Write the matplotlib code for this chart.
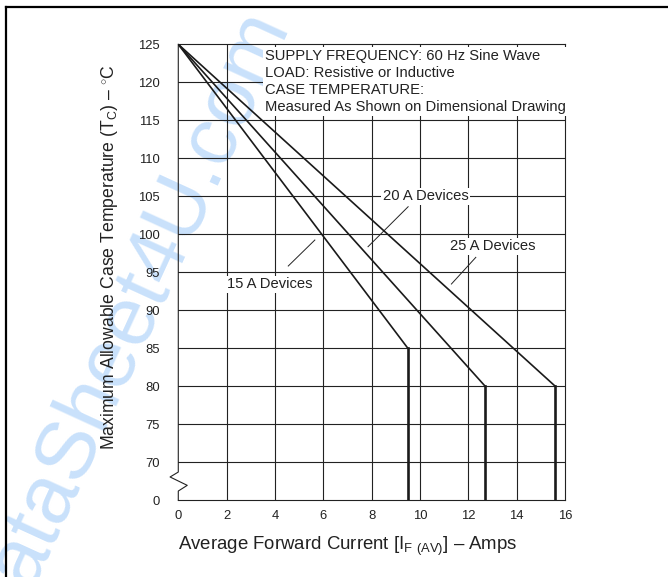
import numpy as np
import matplotlib
matplotlib.use('Agg')
import matplotlib.pyplot as plt
from matplotlib.lines import Line2D

plt.rcParams['font.family'] = ['Liberation Sans', 'DejaVu Sans']
plt.rcParams['mathtext.fontset'] = 'custom'
plt.rcParams['mathtext.rm'] = 'Liberation Sans'

# derating curves: current [A] vs. max case temperature [C] (0 = bottom of broken axis)
i_15 = [0, 9.5, 9.5]
t_15 = [125, 85, 0]
i_20 = [0, 12.7, 12.7]
t_20 = [125, 80, 0]
i_25 = [0, 15.6, 15.6]
t_25 = [125, 80, 0]

x_ticks = [0, 2, 4, 6, 8, 10, 12, 14, 16]
y_ticks = [0, 70, 75, 80, 85, 90, 95, 100, 105, 110, 115, 120, 125]

# label text, label centre, leader line
labels = ['15 A Devices', '20 A Devices', '25 A Devices']
label_x = [3.79, 10.23, 13.03]
label_y = [93.4, 105.0, 98.4]
leader_x = [[5.65, 4.55], [9.51, 7.85], [12.31, 11.30]]
leader_y = [[99.25, 95.83], [103.63, 98.37], [96.97, 93.46]]

note = ('SUPPLY FREQUENCY: 60 Hz Sine Wave\n'
        'LOAD: Resistive or Inductive\n'
        'CASE TEMPERATURE:\n'
        'Measured As Shown on Dimensional Drawing')

BREAK = 65  # where "0" sits on the broken y axis


def ax_y(t):
    t = np.asarray(t, dtype=float)
    return np.where(t < 70, BREAK, t)


fig = plt.figure(figsize=(6.68, 5.77), dpi=100)
ax = fig.add_axes([0.2669, 0.1329, 0.5789, 0.7903])
ax.set_facecolor('none')

# watermark behind everything
fig.text(0.187, 0.442, 'DataSheet4U.com', color='#c9e1fb', fontsize=60,
         rotation=65.4, ha='center', va='center', zorder=-5)

# page border (top + left)
fig.add_artist(Line2D([5.5 / 668, 1], [1 - 6.5 / 577, 1 - 6.5 / 577],
                      color='black', lw=1.6))
fig.add_artist(Line2D([5.5 / 668, 5.5 / 668], [0, 1 - 6.5 / 577],
                      color='black', lw=1.6))

ax.set_xlim(0, 16)
ax.set_ylim(BREAK, 125)
ax.set_xticks(x_ticks)
ax.set_yticks(ax_y(y_ticks))
ax.set_yticklabels([str(v) for v in y_ticks])
ax.tick_params(length=0, labelsize=9.4, colors='#222222')
ax.tick_params(axis='y', pad=13.5)
ax.tick_params(axis='x', pad=7.0)

for v in x_ticks[1:-1]:
    ax.axvline(v, color='#222222', lw=0.8, zorder=1)
for v in y_ticks[1:-1]:
    ax.axhline(v, color='#222222', lw=0.8, zorder=1)

for s in ['top', 'right', 'bottom']:
    ax.spines[s].set_color('#222222')
    ax.spines[s].set_linewidth(0.8)
ax.spines['left'].set_visible(False)

# left axis with break zig-zag
bx = [0, 0, 0.37, -0.34, 0, 0]
by = [65, 66.22, 66.97, 68.07, 68.72, 125]
ax.plot(bx, by, color='#222222', lw=0.8, clip_on=False, zorder=2)

for xs, ts in [(i_15, t_15), (i_20, t_20), (i_25, t_25)]:
    ys = ax_y(ts)
    ax.plot(xs[:2], ys[:2], color='#1a1a1a', lw=1.2, zorder=4,
            solid_capstyle='round')
    ax.plot(xs[1:], ys[1:], color='#1a1a1a', lw=1.9, zorder=4,
            solid_joinstyle='miter')

for txt, lx, ly, px, py in zip(labels, label_x, label_y, leader_x, leader_y):
    ax.text(lx, ly, txt, ha='center', va='center', fontsize=10.6, color='#222222',
            zorder=3, bbox=dict(boxstyle='square,pad=0.12', fc='white', ec='none'))
    ax.plot(px, py, color='#222222', lw=0.7, zorder=3)

ax.text(3.58, 124.4, note, ha='left', va='top', fontsize=10.6, color='#222222',
        linespacing=1.28, zorder=3,
        bbox=dict(boxstyle='square,pad=0.12', fc='white', ec='none'))

ax.set_xlabel(r'Average Forward Current [I$_{\mathregular{F\ (AV)}}$] – Amps',
              fontsize=13.4, color='#222222', ha='left')
ax.xaxis.set_label_coords(0.0, -0.076)
ax.set_ylabel(r'Maximum Allowable Case Temperature (T$_{\mathregular{C}}$) – $^{\circ}$C',
              fontsize=12.7, color='#222222')
ax.yaxis.set_label_coords(-0.15, 0.534)

fig.savefig('out.png', dpi=100)
